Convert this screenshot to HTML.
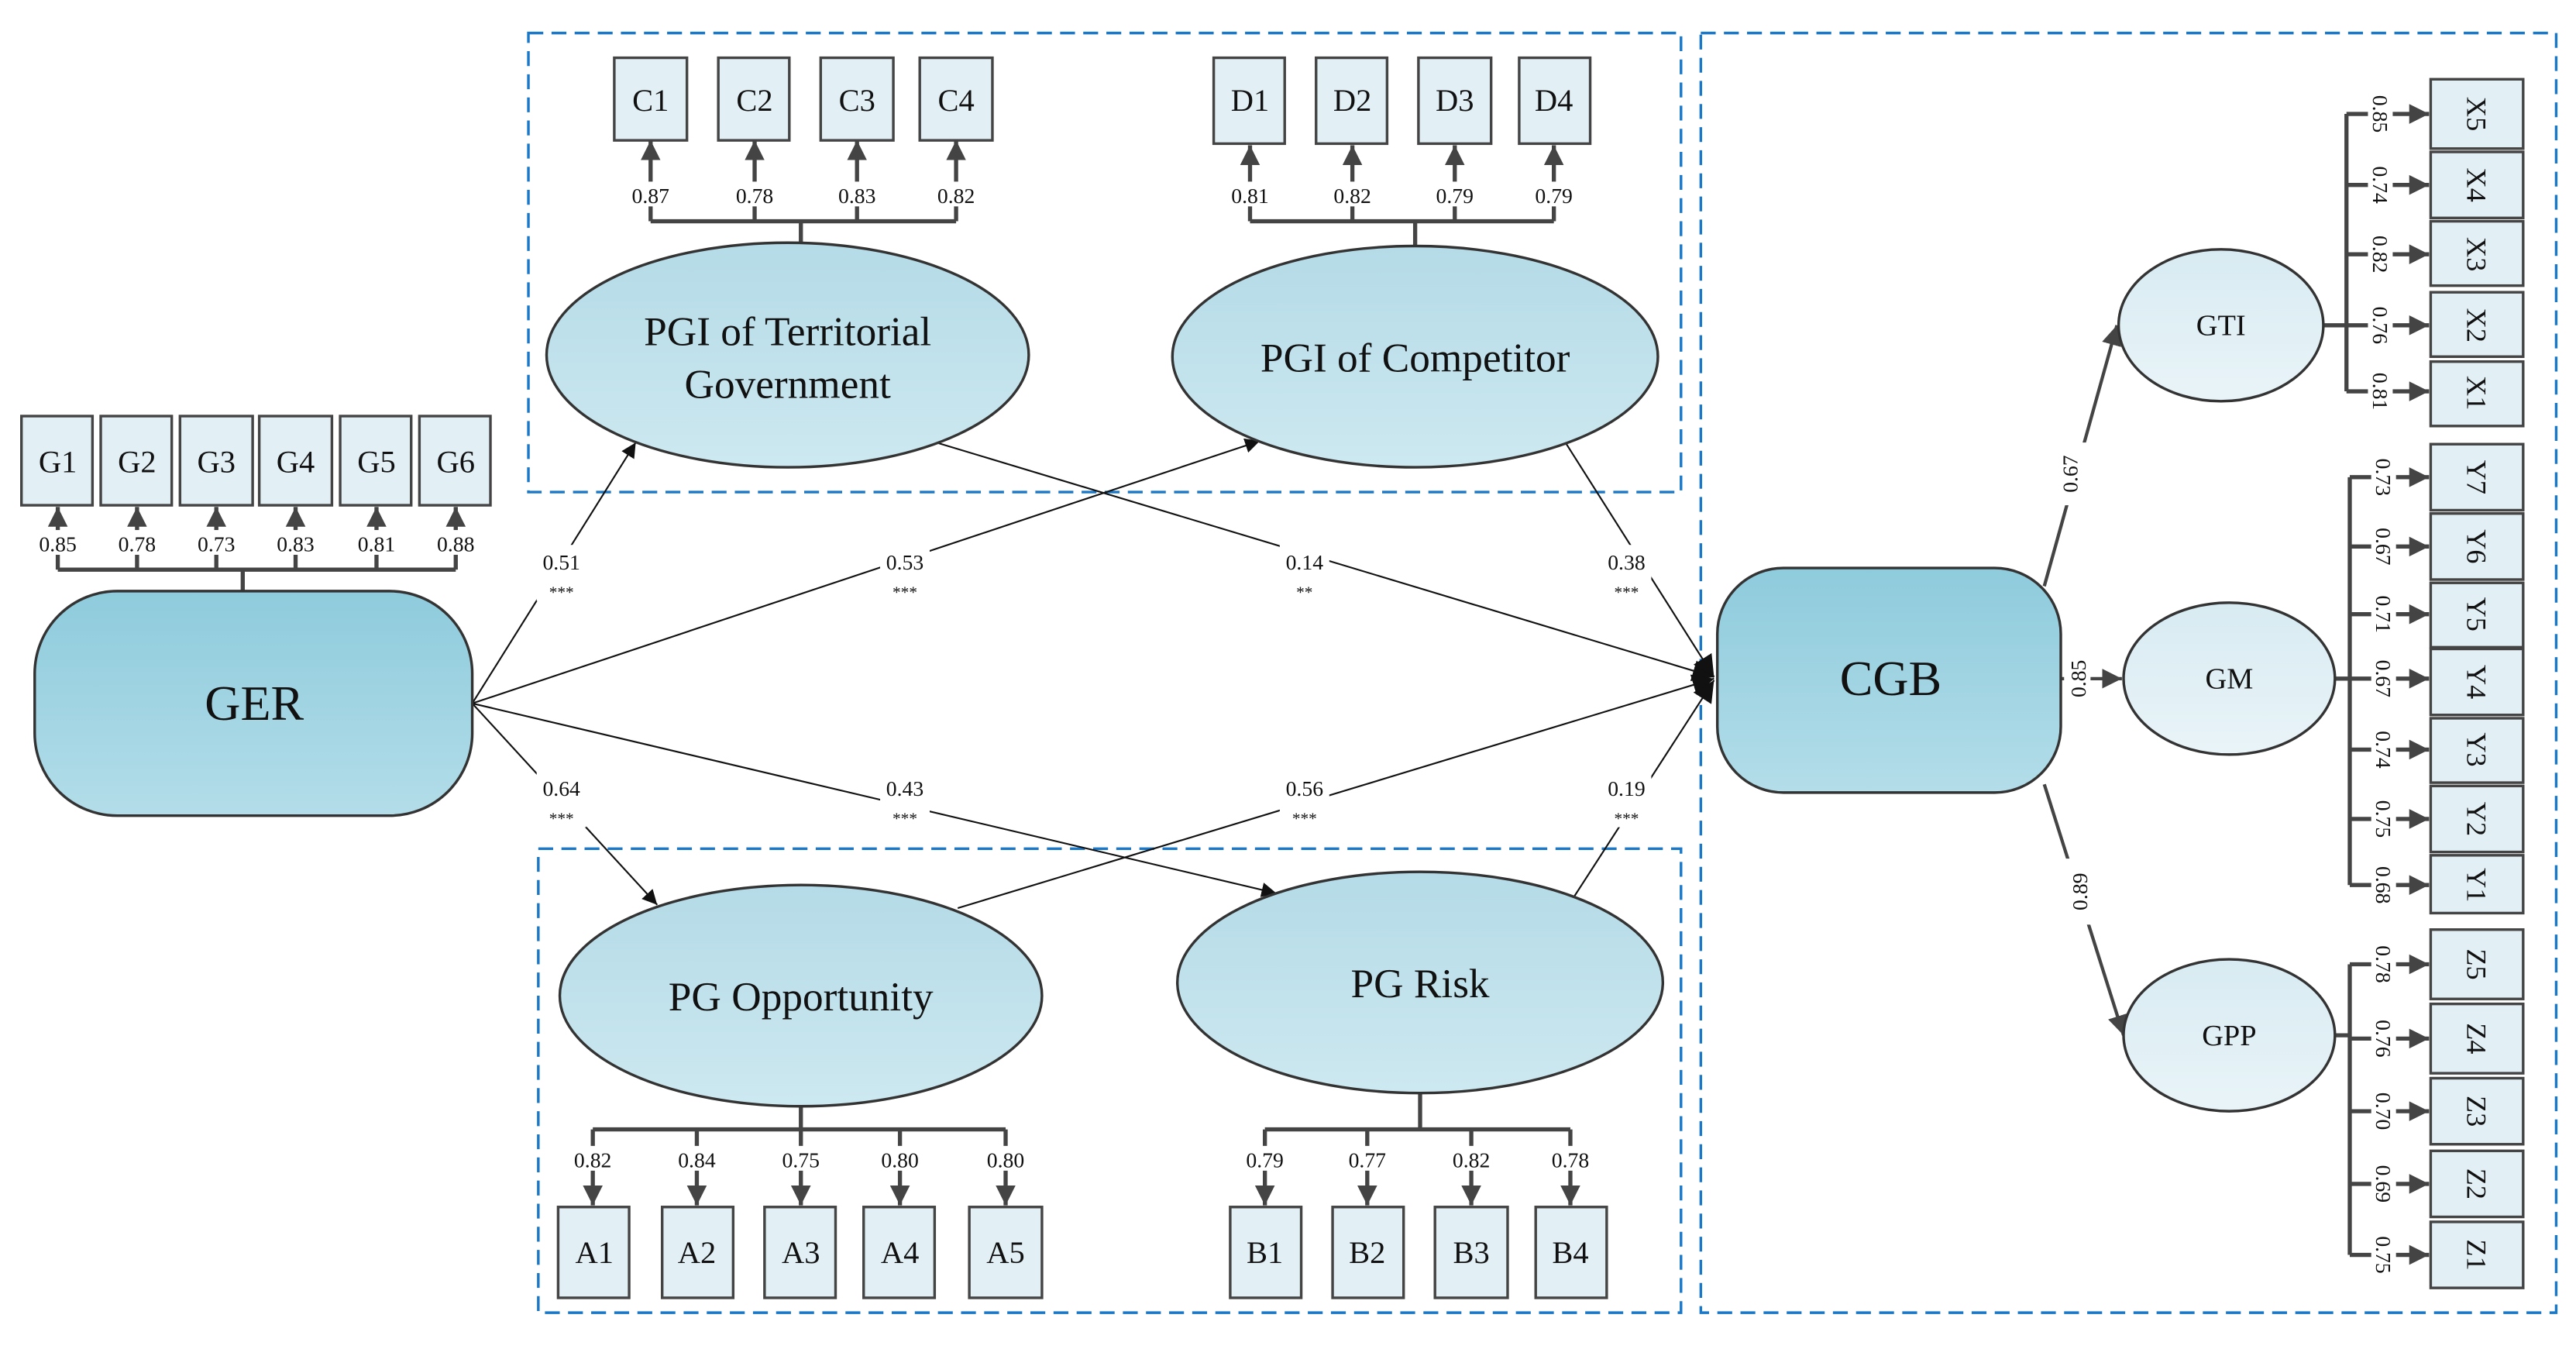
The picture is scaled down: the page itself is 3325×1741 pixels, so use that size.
<!DOCTYPE html>
<html><head><meta charset="utf-8"><style>
html,body{margin:0;padding:0;background:#fff;}
svg{display:block;}
text{font-family:"Liberation Serif",serif;fill:#111;}
</style></head><body>
<svg width="3325" height="1741" viewBox="0 0 1560 817" preserveAspectRatio="none" xmlns="http://www.w3.org/2000/svg">
<defs>
<linearGradient id="gr" x1="0" y1="0" x2="0" y2="1"><stop offset="0" stop-color="#8ecbdc"/><stop offset="1" stop-color="#b3dde9"/></linearGradient>
<linearGradient id="ge" x1="0" y1="0" x2="0" y2="1"><stop offset="0" stop-color="#b4dbe7"/><stop offset="1" stop-color="#cde8f0"/></linearGradient>
<linearGradient id="gs" x1="0" y1="0" x2="0" y2="1"><stop offset="0" stop-color="#d8ebf2"/><stop offset="1" stop-color="#e9f4f8"/></linearGradient>
<marker id="ab" viewBox="0 0 10 10" refX="10" refY="5" markerWidth="9" markerHeight="9" markerUnits="userSpaceOnUse" orient="auto"><path d="M0,0L10,5L0,10z" fill="#111"/></marker>
<marker id="ag" viewBox="0 0 10 10" refX="10" refY="5" markerWidth="12" markerHeight="12" markerUnits="userSpaceOnUse" orient="auto"><path d="M0,0L10,5L0,10z" fill="#444"/></marker>
<marker id="ag2" viewBox="0 0 10 10" refX="10" refY="5" markerWidth="13" markerHeight="13" markerUnits="userSpaceOnUse" orient="auto"><path d="M0,0L10,5L0,10z" fill="#111"/></marker>
</defs>

<!-- dashed group boxes -->
<g fill="none" stroke="#1a78c8" stroke-width="1.6" stroke-dasharray="9,5">
<rect x="320" y="20" width="698" height="278"/>
<rect x="326" y="514" width="692" height="281"/>
<rect x="1030" y="20" width="518" height="775"/>
</g>

<!-- structural paths -->
<g stroke="#111" stroke-width="1" fill="none">
<line x1="286" y1="426" x2="385" y2="268" marker-end="url(#ab)"/>
<line x1="286" y1="426" x2="763" y2="267" marker-end="url(#ab)"/>
<line x1="286" y1="426" x2="398" y2="548" marker-end="url(#ab)"/>
<line x1="286" y1="426" x2="773" y2="541" marker-end="url(#ab)"/>
<line x1="567" y1="268" x2="1038" y2="410" marker-end="url(#ag2)"/>
<line x1="948" y1="268" x2="1038" y2="410" marker-end="url(#ag2)"/>
<line x1="580" y1="550" x2="1038" y2="411" marker-end="url(#ag2)"/>
<line x1="952" y1="545" x2="1038" y2="412" marker-end="url(#ag2)"/>
</g>
<g fill="#fff">
<rect x="325" y="330" width="30" height="34"/><rect x="533" y="330" width="30" height="34"/>
<rect x="775" y="330" width="30" height="34"/><rect x="970" y="330" width="30" height="34"/>
<rect x="325" y="467" width="30" height="34"/><rect x="533" y="467" width="30" height="34"/>
<rect x="775" y="467" width="30" height="34"/><rect x="970" y="467" width="30" height="34"/>
</g>
<g font-size="13" text-anchor="middle">
<text x="340" y="345">0.51</text><text x="340" y="362" font-size="10">***</text>
<text x="548" y="345">0.53</text><text x="548" y="362" font-size="10">***</text>
<text x="790" y="345">0.14</text><text x="790" y="362" font-size="10">**</text>
<text x="985" y="345">0.38</text><text x="985" y="362" font-size="10">***</text>
<text x="340" y="482">0.64</text><text x="340" y="499" font-size="10">***</text>
<text x="548" y="482">0.43</text><text x="548" y="499" font-size="10">***</text>
<text x="790" y="482">0.56</text><text x="790" y="499" font-size="10">***</text>
<text x="985" y="482">0.19</text><text x="985" y="499" font-size="10">***</text>
</g>

<!-- brackets -->
<g stroke="#444" stroke-width="2.5" fill="none">
<path d="M35,345H276M147,345V358"/>
<path d="M394,134H579M485,134V148"/>
<path d="M757,134H941M857,134V149"/>
<path d="M359,684H609M485,670V684"/>
<path d="M766,684H951M860,662V684"/>
<path d="M1421,69V237M1407,197H1421"/>
<path d="M1423,289V536M1414,411H1423"/>
<path d="M1423,584V760M1414,627H1423"/>
</g>
<g stroke="#444" stroke-width="2.5">
<!-- G arrows -->
<line x1="35" y1="345" x2="35" y2="307" marker-end="url(#ag)"/>
<line x1="83" y1="345" x2="83" y2="307" marker-end="url(#ag)"/>
<line x1="131" y1="345" x2="131" y2="307" marker-end="url(#ag)"/>
<line x1="179" y1="345" x2="179" y2="307" marker-end="url(#ag)"/>
<line x1="228" y1="345" x2="228" y2="307" marker-end="url(#ag)"/>
<line x1="276" y1="345" x2="276" y2="307" marker-end="url(#ag)"/>
<!-- C -->
<line x1="394" y1="134" x2="394" y2="85" marker-end="url(#ag)"/>
<line x1="457" y1="134" x2="457" y2="85" marker-end="url(#ag)"/>
<line x1="519" y1="134" x2="519" y2="85" marker-end="url(#ag)"/>
<line x1="579" y1="134" x2="579" y2="85" marker-end="url(#ag)"/>
<!-- D -->
<line x1="757" y1="134" x2="757" y2="88" marker-end="url(#ag)"/>
<line x1="819" y1="134" x2="819" y2="88" marker-end="url(#ag)"/>
<line x1="881" y1="134" x2="881" y2="88" marker-end="url(#ag)"/>
<line x1="941" y1="134" x2="941" y2="88" marker-end="url(#ag)"/>
<!-- A -->
<line x1="359" y1="684" x2="359" y2="730" marker-end="url(#ag)"/>
<line x1="422" y1="684" x2="422" y2="730" marker-end="url(#ag)"/>
<line x1="485" y1="684" x2="485" y2="730" marker-end="url(#ag)"/>
<line x1="545" y1="684" x2="545" y2="730" marker-end="url(#ag)"/>
<line x1="609" y1="684" x2="609" y2="730" marker-end="url(#ag)"/>
<!-- B -->
<line x1="766" y1="684" x2="766" y2="730" marker-end="url(#ag)"/>
<line x1="828" y1="684" x2="828" y2="730" marker-end="url(#ag)"/>
<line x1="891" y1="684" x2="891" y2="730" marker-end="url(#ag)"/>
<line x1="951" y1="684" x2="951" y2="730" marker-end="url(#ag)"/>
<!-- X -->
<line x1="1421" y1="69" x2="1471" y2="69" marker-end="url(#ag)"/>
<line x1="1421" y1="112" x2="1471" y2="112" marker-end="url(#ag)"/>
<line x1="1421" y1="154" x2="1471" y2="154" marker-end="url(#ag)"/>
<line x1="1421" y1="197" x2="1471" y2="197" marker-end="url(#ag)"/>
<line x1="1421" y1="237" x2="1471" y2="237" marker-end="url(#ag)"/>
<!-- Y -->
<line x1="1423" y1="289" x2="1471" y2="289" marker-end="url(#ag)"/>
<line x1="1423" y1="331" x2="1471" y2="331" marker-end="url(#ag)"/>
<line x1="1423" y1="372" x2="1471" y2="372" marker-end="url(#ag)"/>
<line x1="1423" y1="411" x2="1471" y2="411" marker-end="url(#ag)"/>
<line x1="1423" y1="454" x2="1471" y2="454" marker-end="url(#ag)"/>
<line x1="1423" y1="496" x2="1471" y2="496" marker-end="url(#ag)"/>
<line x1="1423" y1="536" x2="1471" y2="536" marker-end="url(#ag)"/>
<!-- Z -->
<line x1="1423" y1="584" x2="1471" y2="584" marker-end="url(#ag)"/>
<line x1="1423" y1="629" x2="1471" y2="629" marker-end="url(#ag)"/>
<line x1="1423" y1="673" x2="1471" y2="673" marker-end="url(#ag)"/>
<line x1="1423" y1="717" x2="1471" y2="717" marker-end="url(#ag)"/>
<line x1="1423" y1="760" x2="1471" y2="760" marker-end="url(#ag)"/>
<!-- CGB to second order -->
<line x1="1238" y1="355" x2="1282" y2="197" marker-end="url(#ag)" stroke-width="2"/>
<line x1="1248" y1="411" x2="1285" y2="411" marker-end="url(#ag)" stroke-width="2"/>
<line x1="1238" y1="475" x2="1286" y2="627" marker-end="url(#ag)" stroke-width="2"/>
</g>
<g fill="#fff">
<rect x="1244" y="268" width="20" height="38"/><rect x="1250" y="394" width="16" height="34"/><rect x="1250" y="520" width="20" height="40"/>
</g>
<g font-size="13" text-anchor="middle">
<text transform="translate(1258,287) rotate(-90)">0.67</text>
<text transform="translate(1263,411) rotate(-90)">0.85</text>
<text transform="translate(1264,540) rotate(-90)">0.89</text>
</g>

<!-- loading labels -->
<g font-size="13" text-anchor="middle" fill="#fff">
</g>
<g font-size="13" text-anchor="middle">
<g fill="#fff" stroke="none"><rect x="22" y="321" width="270" height="15" fill="#fff"/></g>
<text x="35" y="334">0.85</text><text x="83" y="334">0.78</text><text x="131" y="334">0.73</text><text x="179" y="334">0.83</text><text x="228" y="334">0.81</text><text x="276" y="334">0.88</text>
<rect x="380" y="110" width="215" height="15" fill="#fff"/>
<rect x="743" y="110" width="215" height="15" fill="#fff"/>
<text x="394" y="123">0.87</text><text x="457" y="123">0.78</text><text x="519" y="123">0.83</text><text x="579" y="123">0.82</text>
<text x="757" y="123">0.81</text><text x="819" y="123">0.82</text><text x="881" y="123">0.79</text><text x="941" y="123">0.79</text>
<rect x="345" y="694" width="280" height="15" fill="#fff"/>
<rect x="752" y="694" width="215" height="15" fill="#fff"/>
<text x="359" y="707">0.82</text><text x="422" y="707">0.84</text><text x="485" y="707">0.75</text><text x="545" y="707">0.80</text><text x="609" y="707">0.80</text>
<text x="766" y="707">0.79</text><text x="828" y="707">0.77</text><text x="891" y="707">0.82</text><text x="951" y="707">0.78</text>
</g>
<g font-size="13" text-anchor="middle">
<g fill="#fff">
<rect x="1434" y="52" width="15" height="200"/><rect x="1436" y="272" width="15" height="280"/><rect x="1436" y="567" width="15" height="210"/>
</g>
<text transform="translate(1437,69) rotate(90)">0.85</text>
<text transform="translate(1437,112) rotate(90)">0.74</text>
<text transform="translate(1437,154) rotate(90)">0.82</text>
<text transform="translate(1437,197) rotate(90)">0.76</text>
<text transform="translate(1437,237) rotate(90)">0.81</text>
<text transform="translate(1439,289) rotate(90)">0.73</text>
<text transform="translate(1439,331) rotate(90)">0.67</text>
<text transform="translate(1439,372) rotate(90)">0.71</text>
<text transform="translate(1439,411) rotate(90)">0.67</text>
<text transform="translate(1439,454) rotate(90)">0.74</text>
<text transform="translate(1439,496) rotate(90)">0.75</text>
<text transform="translate(1439,536) rotate(90)">0.68</text>
<text transform="translate(1439,584) rotate(90)">0.78</text>
<text transform="translate(1439,629) rotate(90)">0.76</text>
<text transform="translate(1439,673) rotate(90)">0.70</text>
<text transform="translate(1439,717) rotate(90)">0.69</text>
<text transform="translate(1439,760) rotate(90)">0.75</text>
</g>

<!-- observed boxes -->
<g fill="#e2f0f6" stroke="#444" stroke-width="1.6">
<rect x="13" y="252" width="43" height="54"/><rect x="61" y="252" width="43" height="54"/><rect x="109" y="252" width="44" height="54"/>
<rect x="157" y="252" width="44" height="54"/><rect x="206" y="252" width="43" height="54"/><rect x="254" y="252" width="43" height="54"/>
<rect x="372" y="35" width="44" height="50"/><rect x="435" y="35" width="43" height="50"/><rect x="497" y="35" width="44" height="50"/><rect x="557" y="35" width="44" height="50"/>
<rect x="735" y="35" width="43" height="52"/><rect x="797" y="35" width="43" height="52"/><rect x="859" y="35" width="44" height="52"/><rect x="920" y="35" width="43" height="52"/>
<rect x="338" y="731" width="43" height="55"/><rect x="401" y="731" width="43" height="55"/><rect x="463" y="731" width="43" height="55"/><rect x="523" y="731" width="43" height="55"/><rect x="587" y="731" width="44" height="55"/>
<rect x="745" y="731" width="43" height="55"/><rect x="807" y="731" width="43" height="55"/><rect x="869" y="731" width="44" height="55"/><rect x="930" y="731" width="43" height="55"/>
<rect x="1472" y="48" width="56" height="42"/><rect x="1472" y="92" width="56" height="40"/><rect x="1472" y="134" width="56" height="39"/><rect x="1472" y="177" width="56" height="39"/><rect x="1472" y="219" width="56" height="39"/>
<rect x="1472" y="269" width="56" height="40"/><rect x="1472" y="311" width="56" height="40"/><rect x="1472" y="353" width="56" height="39"/><rect x="1472" y="393" width="56" height="40"/><rect x="1472" y="435" width="56" height="39"/><rect x="1472" y="476" width="56" height="40"/><rect x="1472" y="518" width="56" height="35"/>
<rect x="1472" y="563" width="56" height="42"/><rect x="1472" y="608" width="56" height="42"/><rect x="1472" y="653" width="56" height="40"/><rect x="1472" y="697" width="56" height="40"/><rect x="1472" y="740" width="56" height="40"/>
</g>
<g font-size="19" text-anchor="middle">
<text x="35" y="286">G1</text><text x="83" y="286">G2</text><text x="131" y="286">G3</text><text x="179" y="286">G4</text><text x="228" y="286">G5</text><text x="276" y="286">G6</text>
<text x="394" y="67">C1</text><text x="457" y="67">C2</text><text x="519" y="67">C3</text><text x="579" y="67">C4</text>
<text x="757" y="67">D1</text><text x="819" y="67">D2</text><text x="881" y="67">D3</text><text x="941" y="67">D4</text>
<text x="360" y="765">A1</text><text x="422" y="765">A2</text><text x="485" y="765">A3</text><text x="545" y="765">A4</text><text x="609" y="765">A5</text>
<text x="766" y="765">B1</text><text x="828" y="765">B2</text><text x="891" y="765">B3</text><text x="951" y="765">B4</text>
</g>
<g font-size="17" text-anchor="middle">
<text transform="translate(1494,69) rotate(90)">X5</text>
<text transform="translate(1494,112) rotate(90)">X4</text>
<text transform="translate(1494,154) rotate(90)">X3</text>
<text transform="translate(1494,197) rotate(90)">X2</text>
<text transform="translate(1494,238) rotate(90)">X1</text>
<text transform="translate(1494,289) rotate(90)">Y7</text>
<text transform="translate(1494,331) rotate(90)">Y6</text>
<text transform="translate(1494,372) rotate(90)">Y5</text>
<text transform="translate(1494,413) rotate(90)">Y4</text>
<text transform="translate(1494,454) rotate(90)">Y3</text>
<text transform="translate(1494,496) rotate(90)">Y2</text>
<text transform="translate(1494,536) rotate(90)">Y1</text>
<text transform="translate(1494,584) rotate(90)">Z5</text>
<text transform="translate(1494,629) rotate(90)">Z4</text>
<text transform="translate(1494,673) rotate(90)">Z3</text>
<text transform="translate(1494,717) rotate(90)">Z2</text>
<text transform="translate(1494,760) rotate(90)">Z1</text>
</g>

<!-- latent variables -->
<g stroke="#333" stroke-width="1.6">
<rect x="21" y="358" width="265" height="136" rx="50" ry="50" fill="url(#gr)"/>
<rect x="1040" y="344" width="208" height="136" rx="40" ry="40" fill="url(#gr)"/>
<ellipse cx="477" cy="215" rx="146" ry="68" fill="url(#ge)"/>
<ellipse cx="857" cy="216" rx="147" ry="67" fill="url(#ge)"/>
<ellipse cx="485" cy="603" rx="146" ry="67" fill="url(#ge)"/>
<ellipse cx="860" cy="595" rx="147" ry="67" fill="url(#ge)"/>
<ellipse cx="1345" cy="197" rx="62" ry="46" fill="url(#gs)"/>
<ellipse cx="1350" cy="411" rx="64" ry="46" fill="url(#gs)"/>
<ellipse cx="1350" cy="627" rx="64" ry="46" fill="url(#gs)"/>
</g>
<g text-anchor="middle">
<text x="154" y="436" font-size="30">GER</text>
<text x="1145" y="421" font-size="30">CGB</text>
<text x="477" y="209" font-size="25">PGI of Territorial</text>
<text x="477" y="241" font-size="25">Government</text>
<text x="857" y="225" font-size="25">PGI of Competitor</text>
<text x="485" y="612" font-size="25">PG Opportunity</text>
<text x="860" y="604" font-size="25">PG Risk</text>
<text x="1345" y="203" font-size="18">GTI</text>
<text x="1350" y="417" font-size="18">GM</text>
<text x="1350" y="633" font-size="18">GPP</text>
</g>
</svg>
</body></html>
